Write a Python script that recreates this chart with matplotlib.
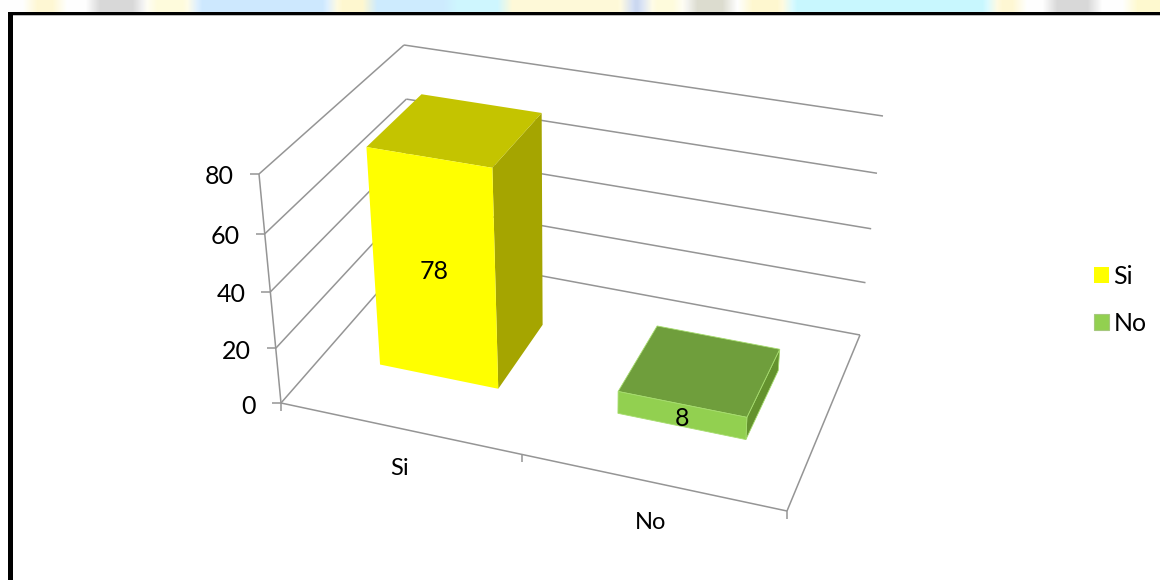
import matplotlib
matplotlib.use('Agg')
import matplotlib.pyplot as plt
from matplotlib.colors import to_rgb
from matplotlib.patches import Polygon, Rectangle
import numpy as np

plt.rcParams['font.family'] = ['Lato', 'DejaVu Sans']

categories = ['Si', 'No']
values = [78, 8]
value_ticks = [0, 20, 40, 60, 80]
val_max = 80

# pixel position of the box corners (floor / top of the 80 level)
floor_fl = (281, 403)
floor_fr = (787, 511)
floor_bl = (413, 252)
floor_br = (860, 335)
top_fl = (259, 174)
top_fr = (798, 266)
top_bl = (404, 45)
top_br = (883, 116)
persp = 0.058  # value axis is not quite linear on screen

# bar footprints in box units
bar_u = [(0.114, 0.357), (0.603, 0.866)]
bar_v = (0.33, 0.73)

yellow = ['#FFFF00', '#C4C400', '#A5A500']
green = ['#92D050', '#6F9E3C', '#64922E']
bar_colors = [yellow, green]
grid_col = '#959595'


def mix(a, b, t):
    return (a[0] + (b[0] - a[0]) * t, a[1] + (b[1] - a[1]) * t)


# u along the categories, v into the depth, val up
def proj(u, v, val):
    floor = mix(mix(floor_fl, floor_fr, u), mix(floor_bl, floor_br, u), v)
    top = mix(mix(top_fl, top_fr, u), mix(top_bl, top_br, u), v)
    s = val / val_max
    return mix(floor, top, (1 - persp) * s / (1 - persp * s))


fig = plt.figure(figsize=(11.6, 5.8), dpi=100)
ax = fig.add_axes([0, 0, 1, 1])

# page behind the chart, only a blurred strip of it shows
strip = [(30, 60, '#FFF8D4'), (93, 140, '#D8D8D8'), (150, 190, '#FFFBDC'),
         (195, 330, '#CDE8FF'), (335, 370, '#FFF8D0'), (370, 450, '#CDEBFF'),
         (450, 505, '#CFF6FF'), (505, 625, '#FFFAD8'), (628, 645, '#CBD8F0'),
         (650, 680, '#FFFBDC'), (690, 730, '#DCDCD0'), (745, 785, '#FFF8D0'),
         (790, 990, '#C8F8FF'), (995, 1020, '#FFF8D4'), (1050, 1095, '#D8D8D8'),
         (1130, 1160, '#FFFAD0')]
back = np.ones((1, 1160, 3))
for x0, x1, c in strip:
    back[0, x0:x1] = to_rgb(c)
kernel = np.ones(15) / 15
for ch in range(3):
    back[0, :, ch] = np.convolve(np.pad(back[0, :, ch], 7, mode='edge'), kernel, mode='valid')
ax.imshow(back, extent=(0, 1160, 12, 0), aspect='auto', zorder=0)

ax.set_xlim(0, 1160)
ax.set_ylim(580, 0)
ax.axis('off')

# frame
ax.add_patch(Rectangle((8, 12), 1152, 3, fc='black', ec='none'))
ax.add_patch(Rectangle((8, 12), 5, 568, fc='black', ec='none'))
ax.add_patch(Rectangle((13, 15), 1147, 1, fc='#BBBBBB', ec='none'))


def line(a, b, lw=1.1):
    ax.plot([a[0], b[0]], [a[1], b[1]], color=grid_col, lw=lw, solid_capstyle='butt', zorder=1)


# walls and gridlines
for t in value_ticks:
    fl = proj(0, 0, t)
    bl = proj(0, 1, t)
    br = proj(1, 1, t)
    line(fl, bl)
    line(bl, br)
    line((fl[0] - 9, fl[1]), fl)
    ax.text(fl[0] - 25, fl[1] + 3, str(t), ha='right', va='center', fontsize=18, color='black')
line(proj(0, 0, 0), proj(0, 0, val_max))

# floor
line(proj(0, 0, 0), proj(1, 0, 0))
line(proj(1, 0, 0), proj(1, 1, 0))
for u in [0, 0.476, 1]:
    p = mix(floor_fl, floor_fr, u)
    line(p, (p[0], p[1] + 8))

# bars
v0, v1 = bar_v
for i in range(len(values)):
    u0, u1 = bar_u[i]
    val = values[i]
    front, top, side = bar_colors[i]
    edge = '#A6DC6E' if i == 1 else 'none'
    lw = 0.6 if i == 1 else 0
    ax.add_patch(Polygon([proj(u1, v0, 0), proj(u1, v1, 0), proj(u1, v1, val), proj(u1, v0, val)],
                         fc=side, ec=edge, lw=lw, zorder=3))
    ax.add_patch(Polygon([proj(u0, v0, val), proj(u1, v0, val), proj(u1, v1, val), proj(u0, v1, val)],
                         fc=top, ec=edge, lw=lw, zorder=3))
    ax.add_patch(Polygon([proj(u0, v0, 0), proj(u1, v0, 0), proj(u1, v0, val), proj(u0, v0, val)],
                         fc=front, ec=edge, lw=lw, zorder=3))
    mid = proj((u0 + u1) / 2, v0, val / 2)
    ax.text(mid[0], mid[1] + (1 if i == 0 else 3), str(val), ha='center', va='center',
            fontsize=18, color='black', zorder=4)

# category labels
label_u = [0.234, 0.73]
label_dy = [40, 41]
for i, name in enumerate(categories):
    p = mix(floor_fl, floor_fr, label_u[i])
    ax.text(p[0], p[1] + label_dy[i], name, ha='center', va='center', fontsize=17, color='black')

# legend
handles = [Rectangle((0, 0), 1, 1, fc=bar_colors[i][0], ec='#A6C87E' if i == 1 else 'none', lw=0.8)
           for i in range(len(categories))]
ax.legend(handles, categories, loc='center left', bbox_to_anchor=(1094 / 1160, 1 - 300 / 580),
          frameon=False, fontsize=18, handlelength=0.6, handleheight=0.6, handletextpad=0.18,
          labelspacing=0.95, borderpad=0, borderaxespad=0)

fig.savefig('out.png', dpi=100)
